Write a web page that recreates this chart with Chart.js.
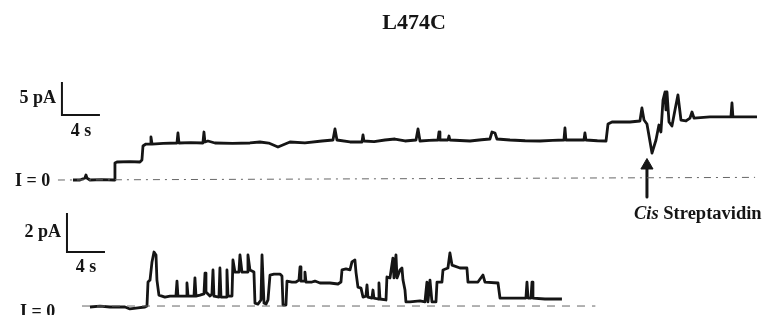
<!DOCTYPE html>
<html>
<head>
<meta charset="utf-8">
<script src="https://cdn.jsdelivr.net/npm/chart.js@4"></script>
<style>
  html, body { margin: 0; padding: 0; background: #fff; }
  #wrap { width: 764px; height: 315px; }
</style>
</head>
<body>
<div id="wrap"><canvas id="trace" width="764" height="315"></canvas></div>
<script>
// recordings: [time (s), current (pA)]
const topTrace = [
  [0, 0], [0.74, 0], [1.26, 0.3], [1.37, 0.76], [1.47, 0.3], [1.79, 0], [3.0, 0.05],
  [4.32, 0], [4.42, 2.58], [4.63, 2.73], [6.0, 2.8], [7.05, 2.73], [7.26, 3.03],
  [7.37, 5.15], [7.68, 5.45], [8.11, 5.45], [8.21, 6.52], [8.32, 5.45], [9.5, 5.55],
  [10.95, 5.61], [11.05, 7.12], [11.16, 5.61], [12.4, 5.65], [13.68, 5.61], [13.79, 7.27],
  [13.89, 5.76], [14.21, 5.91], [14.95, 5.61], [16.8, 5.55], [18.63, 5.61], [19.68, 5.76],
  [20.6, 5.6], [21.58, 5.0], [22.84, 5.76], [24.42, 5.61], [26.21, 5.91], [27.37, 6.06],
  [27.58, 7.73], [27.79, 6.06], [29.16, 5.76], [30.42, 5.76], [30.53, 6.82], [30.63, 5.91],
  [31.7, 5.8], [32.84, 6.06], [33.89, 6.21], [34.95, 5.91], [36.11, 6.06], [36.32, 7.73],
  [36.53, 5.91], [37.5, 6.0], [38.42, 6.06], [38.53, 7.27], [38.63, 6.06], [39.47, 6.06],
  [39.58, 6.67], [39.68, 6.06], [41.79, 5.91], [43.0, 6.1], [43.89, 6.21], [44.11, 7.27],
  [44.42, 7.12], [44.63, 6.21], [46.0, 6.06], [47.6, 5.95], [49.16, 5.91], [50.5, 6.0],
  [51.68, 6.06], [51.79, 7.88], [51.89, 6.06], [53.79, 6.06], [53.89, 7.12], [54.0, 6.06],
  [55.2, 5.95], [56.11, 5.91], [56.32, 8.48], [56.74, 8.79], [58.63, 8.79], [59.68, 8.94],
  [59.89, 10.91], [60.11, 9.09], [60.42, 8.48], [60.95, 4.09], [61.37, 6.06], [61.68, 8.33],
  [61.89, 7.27], [62.11, 12.12], [62.32, 13.33], [62.42, 10.61], [62.53, 13.33], [62.74, 8.79],
  [63.05, 8.18], [63.37, 10.61], [63.68, 12.88], [64.0, 9.09], [64.53, 8.94], [64.95, 9.39],
  [65.16, 10.3], [65.37, 9.39], [67.05, 9.55], [69.26, 9.55], [69.37, 11.67], [69.47, 9.55],
  [72.0, 9.55]
];

const bottomTrace = [
  [0, -0.05], [1.05, 0], [2.11, -0.05], [3.68, -0.05], [4.21, -0.15], [5.05, -0.1], [5.79, -0.05],
  [6.0, 0], [6.11, 1.23], [6.32, 1.33], [6.53, 2.26], [6.74, 2.77], [6.95, 2.62], [7.05, 1.33],
  [7.26, 0.56], [7.89, 0.46], [8.42, 0.51], [9.05, 0.51], [9.16, 1.28], [9.26, 0.51],
  [10.11, 0.51], [10.21, 1.18], [10.32, 0.51], [10.95, 0.51], [11.05, 1.44], [11.16, 0.51],
  [11.58, 0.56], [12.0, 0.62], [12.11, 1.69], [12.21, 0.72], [12.63, 0.51], [12.84, 0.62],
  [12.95, 1.85], [13.05, 0.51], [13.58, 0.46], [13.68, 1.95], [13.79, 0.46], [14.32, 0.46],
  [14.42, 1.85], [14.53, 0.51], [14.95, 0.51], [15.05, 2.36], [15.26, 1.74], [15.68, 1.74],
  [15.79, 2.62], [16.0, 1.74], [16.53, 1.74], [16.63, 2.62], [16.84, 1.85], [17.26, 1.74],
  [17.37, 0.15], [17.68, 0.1], [18.0, 0.31], [18.11, 2.62], [18.32, 0.15], [18.53, 0.1],
  [18.74, 0.31], [18.95, 1.59], [19.37, 1.64], [20.0, 1.64], [20.21, 1.54], [20.32, 0.05],
  [20.63, 0.05], [20.74, 1.28], [21.26, 1.23], [21.68, 1.23], [22.0, 1.33], [22.11, 2.0],
  [22.21, 1.28], [22.53, 1.28], [22.63, 1.74], [22.74, 1.23], [23.37, 1.23], [23.68, 1.28],
  [24.21, 1.18], [25.26, 1.18], [26.11, 1.13], [26.42, 1.23], [26.53, 1.85], [26.95, 1.9],
  [27.37, 1.85], [27.58, 2.26], [27.89, 2.36], [28.0, 1.74], [28.21, 0.97], [28.53, 0.92],
  [28.74, 0.46], [29.05, 0.51], [29.16, 1.08], [29.26, 0.46], [29.68, 0.41], [29.79, 0.82],
  [29.89, 0.41], [30.32, 0.36], [30.42, 1.18], [30.53, 0.36], [31.16, 0.31], [31.26, 1.49],
  [31.58, 1.44], [31.89, 2.46], [32.0, 1.44], [32.21, 2.62], [32.32, 1.44], [32.63, 1.85],
  [32.84, 1.95], [32.95, 1.33], [33.16, 0.82], [33.26, 0.21], [33.68, 0.21], [34.74, 0.26],
  [35.26, 0.21], [35.47, 1.23], [35.58, 0.21], [35.79, 1.33], [36.0, 0.21], [36.42, 0.21],
  [36.53, 1.23], [37.05, 1.23], [37.16, 1.85], [37.68, 1.95], [37.89, 2.72], [38.11, 2.1],
  [38.95, 1.95], [39.68, 1.95], [39.79, 1.23], [40.84, 1.23], [41.37, 1.59], [41.58, 1.23],
  [42.95, 1.18], [43.16, 0.41], [44.21, 0.41], [45.26, 0.41], [45.89, 0.41], [46.0, 1.23],
  [46.11, 0.41], [46.42, 0.41], [46.53, 1.23], [46.63, 0.41], [47.89, 0.36], [49.68, 0.36]
];

// scale bars: [current (pA), time (s)]
const topBarSize = [5, 4];
const bottomBarSize = [2, 4];
const addTime = 60.42; // cis streptavidin added (s)

const labels = {
  title: 'L474C',
  topBar: ['5 pA', '4 s'],
  bottomBar: ['2 pA', '4 s'],
  zero: 'I = 0',
  arrow: ['Cis', ' Streptavidin']
};

// layout (data units of each panel)
const topBarAt = [-1.16, 9.85];
const bottomBarAt = [-2.42, 2.77];
const ink = '#151515';

const pts = arr => arr.map(p => ({ x: p[0], y: p[1] }));

function bar(at, size) {
  return [
    { x: at[0], y: at[1] + size[0] },
    { x: at[0], y: at[1] },
    { x: at[0] + size[1], y: at[1] }
  ];
}

const base = {
  type: 'line', pointRadius: 0, tension: 0, borderColor: ink, fill: false,
  borderJoinStyle: 'round'
};

const textPlugin = {
  id: 'figText',
  afterDraw(chart) {
    const ctx = chart.ctx;
    const s = chart.scales;
    ctx.save();
    ctx.fillStyle = ink;
    ctx.textBaseline = 'middle';

    ctx.font = 'bold 22px "Liberation Serif"';
    ctx.textAlign = 'center';
    ctx.fillText(labels.title, 414, 23);

    ctx.font = 'bold 18px "Liberation Serif"';
    // top scale bar
    let bx = s.xTop.getPixelForValue(topBarAt[0]);
    let by0 = s.yTop.getPixelForValue(topBarAt[1]);
    let by1 = s.yTop.getPixelForValue(topBarAt[1] + topBarSize[0]);
    let bx1 = s.xTop.getPixelForValue(topBarAt[0] + topBarSize[1]);
    ctx.textAlign = 'right';
    ctx.fillText(labels.topBar[0], bx - 6, (by0 + by1) / 2);
    ctx.textAlign = 'center';
    ctx.fillText(labels.topBar[1], (bx + bx1) / 2, by0 + 16);

    // bottom scale bar
    bx = s.xBot.getPixelForValue(bottomBarAt[0]);
    by0 = s.yBot.getPixelForValue(bottomBarAt[1]);
    by1 = s.yBot.getPixelForValue(bottomBarAt[1] + bottomBarSize[0]);
    bx1 = s.xBot.getPixelForValue(bottomBarAt[0] + bottomBarSize[1]);
    ctx.textAlign = 'right';
    ctx.fillText(labels.bottomBar[0], bx - 6, (by0 + by1) / 2);
    ctx.textAlign = 'center';
    ctx.fillText(labels.bottomBar[1], (bx + bx1) / 2, by0 + 15);

    // zero current labels
    ctx.textAlign = 'left';
    ctx.fillText(labels.zero, 15, s.yTop.getPixelForValue(0) + 1);
    ctx.fillText(labels.zero, 20, s.yBot.getPixelForValue(0) + 6);

    // arrow caption
    const ax = 634;
    const ay = s.yTop.getPixelForValue(-2.58) + 17;
    ctx.font = 'italic bold 18.5px "Liberation Serif"';
    ctx.fillText(labels.arrow[0], ax, ay);
    const w = ctx.measureText(labels.arrow[0]).width;
    ctx.font = 'bold 18.5px "Liberation Serif"';
    ctx.fillText(labels.arrow[1], ax + w, ay);
    ctx.restore();
  }
};

new Chart(document.getElementById('trace'), {
  type: 'line',
  data: {
    datasets: [
      Object.assign({}, base, {
        data: [{ x: -1.58, y: 0 }, { x: 71.8, y: 0.4 }],
        xAxisID: 'xTop', yAxisID: 'yTop',
        borderWidth: 1, borderColor: '#666', borderDash: [7, 5, 2, 5]
      }),
      Object.assign({}, base, {
        data: pts(topTrace), xAxisID: 'xTop', yAxisID: 'yTop', borderWidth: 2.8
      }),
      Object.assign({}, base, {
        data: bar(topBarAt, topBarSize), xAxisID: 'xTop', yAxisID: 'yTop', borderWidth: 2,
        borderJoinStyle: 'miter'
      }),
      Object.assign({}, base, {
        data: [{ x: addTime, y: 2.2 }, { x: addTime, y: -2.58 }],
        xAxisID: 'xTop', yAxisID: 'yTop', borderWidth: 3,
        pointRadius: [7, 0], pointStyle: 'triangle',
        pointBackgroundColor: ink, pointBorderColor: ink, pointBorderWidth: 1
      }),
      Object.assign({}, base, {
        data: [{ x: -0.84, y: 0 }, { x: 53.2, y: 0 }],
        xAxisID: 'xBot', yAxisID: 'yBot',
        borderWidth: 1, borderColor: '#666', borderDash: [8, 7]
      }),
      Object.assign({}, base, {
        data: pts(bottomTrace), xAxisID: 'xBot', yAxisID: 'yBot', borderWidth: 2.8
      }),
      Object.assign({}, base, {
        data: bar(bottomBarAt, bottomBarSize), xAxisID: 'xBot', yAxisID: 'yBot', borderWidth: 2,
        borderJoinStyle: 'miter'
      })
    ]
  },
  options: {
    responsive: false,
    animation: false,
    devicePixelRatio: 1,
    layout: { padding: 0, autoPadding: false },
    plugins: { legend: { display: false }, tooltip: { enabled: false } },
    scales: {
      xTop: { type: 'linear', display: false, min: -7.68, max: 72.74 },
      yTop: { type: 'linear', display: false, min: -20.45, max: 27.27 },
      xBot: { type: 'linear', display: false, min: -9.47, max: 70.95 },
      yBot: { type: 'linear', display: false, min: -0.46, max: 15.69 }
    }
  },
  plugins: [textPlugin]
});
</script>
</body>
</html>
